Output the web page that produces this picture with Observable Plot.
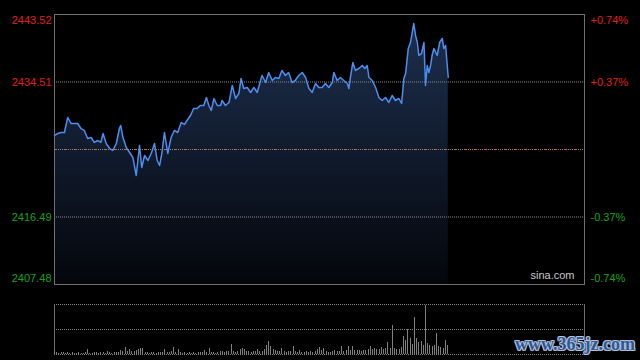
<!DOCTYPE html>
<html><head><meta charset="utf-8">
<script src="https://cdn.jsdelivr.net/npm/d3@7"></script>
<script src="https://cdn.jsdelivr.net/npm/@observablehq/plot@0.6"></script>
<style>
body{margin:0;background:#000;}
#wrap{position:relative;width:640px;height:360px;background:#000;overflow:hidden;font-family:"Liberation Sans",Arial,sans-serif;}
#main{position:absolute;left:0;top:0;}
#vol{position:absolute;left:0;top:294px;}
#wm{position:absolute;left:515px;top:334px;font:bold 18px "Liberation Serif",serif;color:#2b5797;letter-spacing:0px;
text-shadow:1px 0 0 #b8c4d8,-1px 0 0 #b8c4d8,0 1px 0 #b8c4d8,0 -1px 0 #b8c4d8,1px 1px 0 #8f9cb4,-1px -1px 0 #8f9cb4,1px -1px 0 #8f9cb4,-1px 1px 0 #8f9cb4;}
</style></head>
<body><div id="wrap"><div id="main"></div><div id="vol"></div><div id="wm">www.365jz.com</div></div>
<script>
// trading minute index (0 = 09:30, 240 = 15:00)
const minutes = [0,1.5,3,4.5,6,7.5,9,10.5,12,13.5,15,16.6,18,19.6,21,22,23.4,25,26.4,28,29.4,30,31,32.5,34,35.5,37,38.5,39.5,40.8,42.3,43.8,45.3,46.5,47.6,48.6,49.8,51.3,52.8,54.3,55.8,57.4,58.9,
60,61.6,63,64.6,66,67.6,68.8,69.9,71,72.2,73.7,75.2,75.9,77.4,79,80.5,82,83.5,84.5,85.7,87.3,88.8,90.3,91.8,93.3,94,95.6,97,98.6,100,101.6,103,104.6,106,107.6,109,110.6,112.2,113.7,115.2,116.7,118.2,119.7,
121.2,122.7,124.2,125.8,126.5,128,129.5,131,132.6,133.3,134,135.1,136.3,137.8,139.4,140.6,141.6,142.4,143.9,145.4,146.9,148.4,149.9,151.4,152.9,154.4,155.9,157.2,158.2,159,160.2,161.2,162.7,163.5,164.3,165,166.2,167.3,168,168.8,169.5,170.3,171,171.8,173.3,174.4,175.6,176.3,177.1,178.3];
const prices = [2427.37,2427.64,2427.77,2427.77,2429.77,2428.97,2428.97,2428.97,2428.30,2428.04,2426.97,2427.10,2426.44,2426.70,2426.44,2427.64,2426.30,2425.63,2425.37,2426.30,2428.30,2428.70,2427.10,2425.77,2425.10,2424.43,2422.03,2426.03,2423.10,2424.70,2424.03,2424.97,2426.30,2424.03,2423.37,2424.97,2427.77,2424.97,2427.10,2428.04,2427.77,2429.10,2428.85,
2429.37,2430.04,2430.97,2430.97,2431.37,2431.37,2432.44,2431.37,2430.71,2432.31,2431.37,2431.37,2432.04,2431.37,2431.77,2434.04,2432.31,2432.98,2434.98,2433.64,2433.78,2433.11,2433.78,2433.11,2434.71,2435.38,2434.44,2435.78,2434.71,2435.11,2434.98,2436.05,2435.38,2435.78,2434.44,2434.71,2435.38,2435.78,2435.11,2433.64,2433.11,2434.31,2433.78,
2433.78,2434.31,2433.78,2434.44,2435.78,2434.71,2435.11,2434.71,2434.31,2433.64,2435.11,2437.11,2436.05,2436.31,2436.71,2436.31,2436.71,2435.11,2434.71,2433.78,2432.44,2432.04,2432.44,2431.77,2432.71,2432.04,2432.31,2431.64,2434.98,2435.64,2438.98,2439.78,2442.32,2440.72,2439.78,2438.05,2438.31,2439.78,2434.04,2436.71,2435.78,2436.71,2438.05,2438.98,2438.05,2439.78,2440.32,2438.98,2439.38,2435.11];
const prevClose = 2425.50;
const priceTicks = [2443.52, 2434.51, 2416.49, 2407.48];
const priceTickLabels = ["2443.52", "2434.51", "2416.49", "2407.48"];
const pctTickLabels = ["+0.74%", "+0.37%", "-0.37%", "-0.74%"];
// volume per minute, starting at minute 0
const volumes = [4,2,1,2,2,1,2,1,2,1,1,2,1,1,2,5,1,1,2,2,1,2,2,1,3,2,1,2,2,2,4,3,7,3,5,3,3,4,5,6,6,2,2,1,2,2,1,2,2,2,5,2,2,3,7,2,5,2,1,2,
1,2,1,2,1,2,2,2,4,2,6,2,2,1,2,3,3,2,3,3,10,3,2,3,5,6,5,3,3,2,3,3,5,3,3,5,9,13,8,5,4,3,3,6,3,2,3,3,8,3,2,4,2,2,3,2,3,2,3,5,
7,4,6,3,2,2,3,4,3,3,8,3,4,8,4,8,4,4,4,3,4,4,5,8,5,6,5,5,7,5,6,12,6,29,6,5,5,7,18,14,25,16,10,37,16,12,13,9,49,11,9,8,9,21,8,7,6,14,9];
const volTicks = [0, 25, 50];
const sessionMinutes = [0, 240];

const red = "#e41f1c", green = "#16a316";
const data = minutes.map((m, i) => ({m, p: prices[i]}));
const ticks = priceTicks.map((v, i) => ({v, left: priceTickLabels[i], right: pctTickLabels[i], c: v > prevClose ? red : green}));
const tickTop = ticks.slice(0, 1), tickMid = ticks.slice(1, 3), tickBot = ticks.slice(3);
const font = {fontSize: 11, fontFamily: "Liberation Sans, Arial, sans-serif"};

function labels(arr, dy) {
  return [
    Plot.text(arr, {y: "v", text: "left", frameAnchor: "left", textAnchor: "end", dx: -3, dy, fill: "c", ...font}),
    Plot.text(arr, {y: "v", text: "right", frameAnchor: "right", textAnchor: "start", dx: 6, dy, fill: "c", ...font})
  ];
}

const main = Plot.plot({
  width: 640, height: 290, marginTop: 14, marginBottom: 6, marginLeft: 54, marginRight: 56,
  style: {background: "#000", overflow: "visible"},
  x: {domain: sessionMinutes, axis: null},
  y: {domain: [priceTicks[3], priceTicks[0]], axis: null},
  color: {type: "identity"},
  marks: [
    Plot.areaY(data, {x: "m", y1: priceTicks[3], y2: "p", fill: "url(#pgrad)"}),
    Plot.ruleY(tickMid, {y: "v", stroke: "#8a8a8a", strokeDasharray: "1,1"}),
    Plot.ruleY([prevClose], {stroke: "#8a8a8a", strokeDasharray: "1,1"}),
    Plot.ruleY([prevClose], {stroke: "#d06a2c", strokeDasharray: "3,7"}),
    Plot.lineY(data, {x: "m", y: "p", stroke: "#4a8ef0", strokeWidth: 1.5}),
    Plot.frame({stroke: "#707070"}),
    ...labels(tickTop, 6), ...labels(tickMid, 0), ...labels(tickBot, -6),
    Plot.text(["sina.com"], {frameAnchor: "bottom-right", text: d => d, dx: -10, dy: -6, fill: "#c8c8c8", ...font})
  ]
});
const ns = "http://www.w3.org/2000/svg";
const defs = document.createElementNS(ns, "defs");
defs.innerHTML = '<linearGradient id="pgrad" x1="0" y1="0" x2="0" y2="1"><stop offset="0" stop-color="#1d2f4e"/><stop offset="1" stop-color="#04060b"/></linearGradient>';
main.insertBefore(defs, main.firstChild);
document.getElementById("main").appendChild(main);

const vdata = volumes.map((v, i) => ({m: i, v}));
const vol = Plot.plot({
  width: 640, height: 66, marginTop: 10, marginBottom: 6, marginLeft: 54, marginRight: 56,
  style: {background: "transparent"},
  x: {domain: sessionMinutes, axis: null},
  y: {domain: [volTicks[0], volTicks[2]], axis: null},
  marks: [
    Plot.ruleY(volTicks, {stroke: "#808080", strokeDasharray: "1,1"}),
    Plot.ruleX(sessionMinutes, {stroke: "#6e6e6e"}),
    Plot.ruleX(vdata, {x: "m", y1: 0, y2: "v", stroke: "#808080", shapeRendering: "crispEdges"})
  ]
});
document.getElementById("vol").appendChild(vol);
</script>
</body></html>
